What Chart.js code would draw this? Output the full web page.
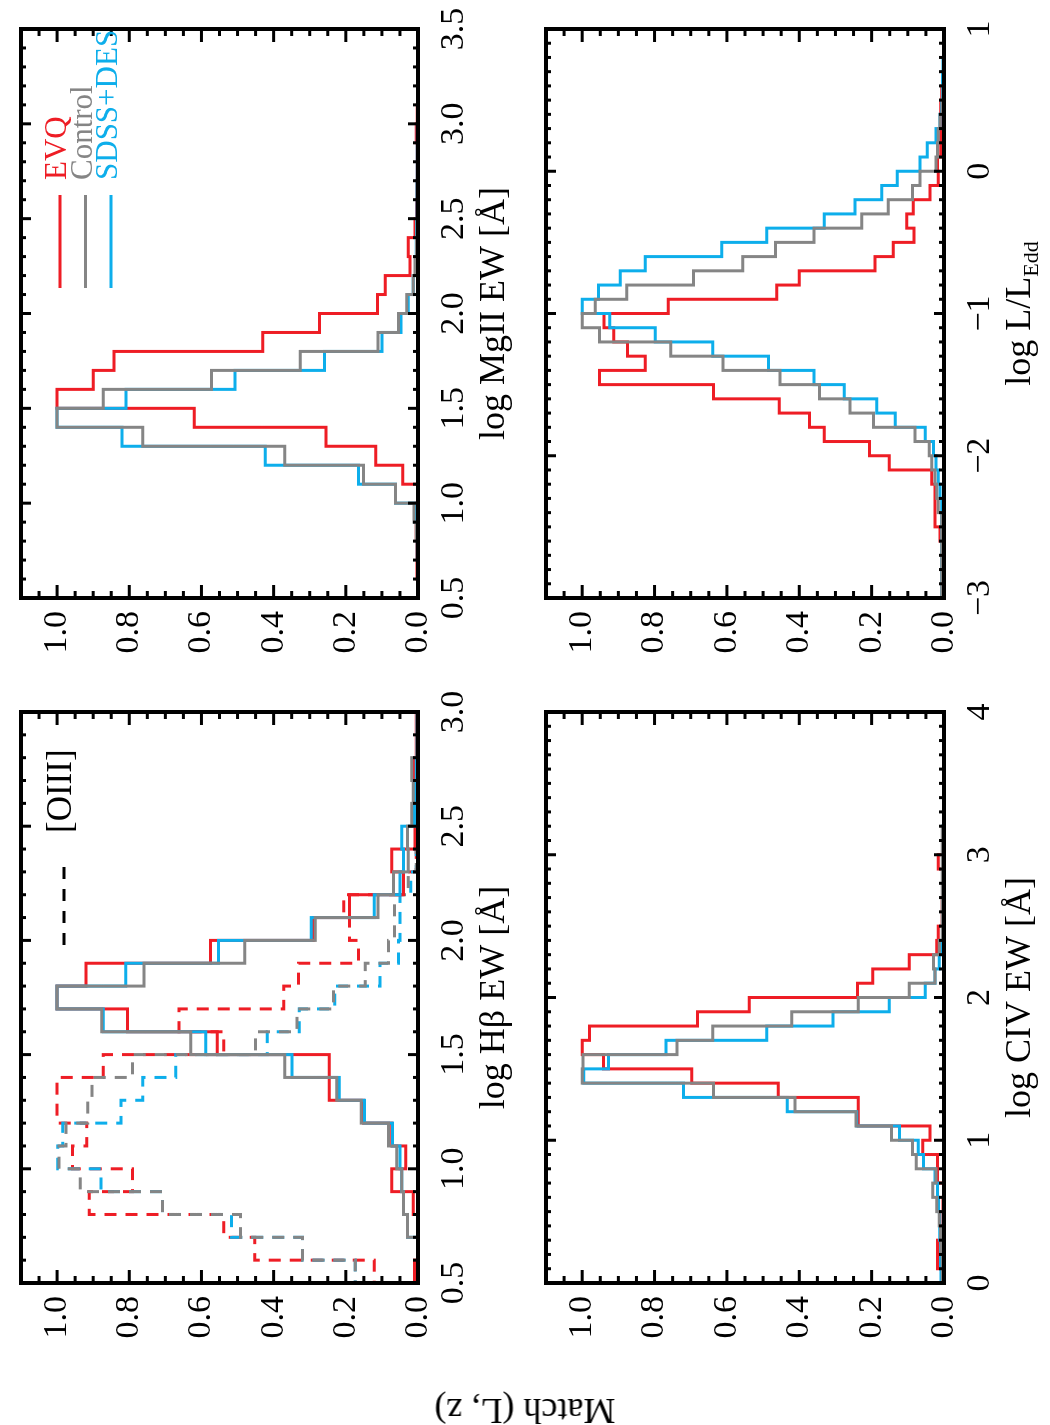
<!DOCTYPE html>
<html>
<head>
<meta charset="utf-8">
<script src="https://cdn.jsdelivr.net/npm/chart.js@4.4.1/dist/chart.umd.min.js"></script>
<style>
  html, body { margin:0; padding:0; background:#fff; width:1050px; height:1425px; overflow:hidden; }
  /* the figure is laid out landscape and turned a quarter turn, like the printed page */
  #page { position:absolute; left:0; top:0; width:1425px; height:1050px;
          transform-origin:0 0; transform:translate(0,1425px) rotate(-90deg); }
  #page canvas { position:absolute; }
  .ylab { position:absolute; left:14px; top:525px; transform:translate(-50%,-50%) rotate(-90deg);
          font:36px 'Liberation Serif', 'Times New Roman', serif; line-height:1; white-space:nowrap; }
</style>
</head>
<body>
<div id="page">
  <canvas id="c-hb"   width="731" height="547" style="left:32px;top:-19px"></canvas>
  <canvas id="c-mg"   width="729" height="547" style="left:717px;top:-19px"></canvas>
  <canvas id="c-civ"  width="731" height="548" style="left:32px;top:506px"></canvas>
  <canvas id="c-ledd" width="729" height="548" style="left:717px;top:506px"></canvas>
  <div class="ylab">Match (L, z)</div>
</div>
<script>
// ── Fonts / colours ───────────────────────────────────────
const FONT = "'Liberation Serif', 'Times New Roman', serif";
const COLORS = {
  evq:     '#ee1d25',
  control: '#858585',
  sdss:    '#0daeeb',
};

// ── Bin left edges (last entry closes the final bin) ─────
const hbEdges   = [0.5,0.6,0.7,0.8,0.9,1.0,1.1,1.2,1.3,1.4,1.5,1.6,1.7,1.8,1.9,2.0,2.1,2.2,2.3,2.4,2.5,2.6,2.7,2.8,2.9,3.0];
const mgEdges   = [0.5,0.6,0.7,0.8,0.9,1.0,1.1,1.2,1.3,1.4,1.5,1.6,1.7,1.8,1.9,2.0,2.1,2.2,2.3,2.4,2.5,2.6,2.7,2.8,2.9,3.0,3.1,3.2,3.3,3.4,3.5];
const civEdges  = [0.0,0.1,0.2,0.3,0.4,0.5,0.6,0.7,0.8,0.9,1.0,1.1,1.2,1.3,1.4,1.5,1.6,1.7,1.8,1.9,
                   2.0,2.1,2.2,2.3,2.4,2.5,2.6,2.7,2.8,2.9,3.0,3.1,3.2,3.3,3.4,3.5,3.6,3.7,3.8,3.9,4.0];
const leddEdges = [-3.0,-2.9,-2.8,-2.7,-2.6,-2.5,-2.4,-2.3,-2.2,-2.1,-2.0,-1.9,-1.8,-1.7,-1.6,-1.5,-1.4,-1.3,-1.2,-1.1,
                   -1.0,-0.9,-0.8,-0.7,-0.6,-0.5,-0.4,-0.3,-0.2,-0.1,0.0,0.1,0.2,0.3,0.4,0.5,0.6,0.7,0.8,0.9,1.0];

// ── Hβ EW (solid) and [OIII] EW (dashed) ──────────────────
const hbEvq     = [0.003,0.010,0.000,0.000,0.013,0.073,0.034,0.073,0.151,0.246,0.246,0.556,0.805,1.000,0.920,0.575,0.290,0.190,0.040,0.073,0.008,0.003,0.003,0.010,0.005];
const hbControl = [0.000,0.000,0.000,0.029,0.040,0.045,0.059,0.082,0.157,0.225,0.369,0.630,0.876,1.000,0.759,0.480,0.285,0.111,0.068,0.027,0.029,0.017,0.013,0.017,0.003];
const hbSdss    = [0.000,0.000,0.000,0.029,0.040,0.045,0.050,0.071,0.148,0.218,0.349,0.588,0.872,1.000,0.810,0.553,0.296,0.121,0.050,0.040,0.045,0.010,0.008,0.005,0.003];
const o3Evq     = [0.036,0.121,0.452,0.538,0.911,0.791,0.957,0.918,1.000,1.000,0.872,0.538,0.662,0.372,0.331,0.165,0.190,0.206,0.040,0.005,0.005,0.003,0.003,0.003,0.003];
const o3Control = [0.148,0.174,0.320,0.492,0.708,0.936,0.995,0.975,0.915,0.903,0.791,0.450,0.335,0.234,0.146,0.082,0.065,0.065,0.027,0.005,0.005,0.003,0.003,0.003,0.003];
const o3Sdss    = [0.148,0.174,0.320,0.517,0.708,0.878,0.998,0.984,0.823,0.763,0.671,0.418,0.329,0.231,0.105,0.054,0.050,0.050,0.020,0.005,0.005,0.003,0.003,0.003,0.003];

// ── MgII EW ───────────────────────────────────────────────
const mgEvq     = [0.000,0.000,0.003,0.003,0.005,0.005,0.000,0.042,0.117,0.255,0.620,1.000,0.900,0.842,0.430,0.273,0.112,0.091,0.022,0.027,0.008,0.004,0.003,0.002,0.002,0.005,0.002,0.000,0.000,0.000];
const mgControl = [0.000,0.000,0.000,0.002,0.005,0.011,0.062,0.151,0.369,0.763,1.000,0.872,0.572,0.326,0.111,0.054,0.031,0.013,0.008,0.004,0.003,0.002,0.002,0.001,0.001,0.001,0.000,0.000,0.000,0.000];
const mgSdss    = [0.000,0.000,0.000,0.002,0.004,0.008,0.062,0.165,0.423,0.820,1.000,0.809,0.507,0.259,0.100,0.047,0.027,0.013,0.006,0.005,0.004,0.003,0.003,0.002,0.002,0.002,0.001,0.001,0.001,0.001];

// ── CIV EW ────────────────────────────────────────────────
const civEvq     = [0.003,0.003,0.018,0.018,0.005,0.003,0.003,0.000,0.018,0.018,0.059,0.039,0.237,0.237,0.458,0.697,0.941,1.000,0.980,0.681,
                    0.538,0.239,0.197,0.096,0.020,0.016,0.005,0.005,0.003,0.003,0.016,0.003,0.000,0.000,0.000,0.000,0.000,0.000,0.000,0.000];
const civControl = [0.005,0.005,0.005,0.008,0.010,0.013,0.020,0.031,0.022,0.077,0.087,0.145,0.243,0.412,0.637,1.000,0.998,0.738,0.639,0.421,
                    0.237,0.096,0.025,0.029,0.013,0.005,0.005,0.005,0.005,0.005,0.005,0.005,0.005,0.000,0.000,0.000,0.000,0.000,0.000,0.000];
const civSdss    = [0.008,0.008,0.010,0.010,0.012,0.012,0.015,0.018,0.025,0.057,0.071,0.123,0.241,0.433,0.720,0.996,0.927,0.768,0.490,0.307,
                    0.151,0.052,0.025,0.013,0.006,0.004,0.004,0.004,0.004,0.004,0.004,0.004,0.004,0.000,0.000,0.000,0.000,0.000,0.000,0.000];

// ── log L/LEdd ────────────────────────────────────────────
const leddEvq     = [0.016,0.005,0.003,0.003,0.002,0.011,0.025,0.025,0.025,0.034,0.151,0.206,0.331,0.372,0.455,0.637,0.952,0.826,0.875,0.913,
                     0.940,0.762,0.462,0.400,0.191,0.140,0.083,0.103,0.085,0.039,0.016,0.018,0.009,0.009,0.009,0.009,0.006,0.000,0.000,0.000];
const leddControl = [0.006,0.006,0.006,0.006,0.006,0.006,0.006,0.016,0.020,0.025,0.034,0.041,0.080,0.195,0.260,0.344,0.453,0.611,0.755,0.952,
                     1.000,0.964,0.877,0.692,0.556,0.466,0.359,0.227,0.154,0.087,0.066,0.022,0.018,0.016,0.011,0.005,0.003,0.000,0.000,0.000];
const leddSdss    = [0.006,0.006,0.006,0.006,0.006,0.006,0.006,0.006,0.011,0.016,0.022,0.029,0.052,0.135,0.186,0.276,0.359,0.485,0.639,0.798,
                     0.924,1.000,0.955,0.895,0.826,0.614,0.490,0.331,0.246,0.172,0.129,0.066,0.046,0.022,0.011,0.006,0.004,0.004,0.003,0.000];

// ── Tick labels on the match axis ─────────────────────────
const matchTicks = [0.0, 0.2, 0.4, 0.6, 0.8, 1.0];

// ── Plugins ───────────────────────────────────────────────
// IDL-style box: frame on all four sides, inward major/minor ticks
const idlFrame = {
  id: 'idlFrame',
  afterDatasetsDraw(chart, args, o) {
    const { ctx, chartArea: a, scales: { x, y } } = chart;
    ctx.save();
    ctx.strokeStyle = '#000';
    ctx.lineWidth = 3;
    const seg = (x1, y1, x2, y2) => { ctx.beginPath(); ctx.moveTo(x1, y1); ctx.lineTo(x2, y2); ctx.stroke(); };
    const isMajor = (v, step) => Math.abs(v / step - Math.round(v / step)) < 1e-6;

    const nx = Math.round((x.max - x.min) / o.xMinor);
    for (let i = 1; i < nx; i++) {
      const v = x.min + i * o.xMinor;
      const len = isMajor(v, o.xMajor) ? 10 : 5;
      const px = x.getPixelForValue(v);
      seg(px, a.bottom, px, a.bottom - len);
      seg(px, a.top, px, a.top + len);
    }
    const ny = Math.round((y.max - y.min) / o.yMinor);
    for (let i = 1; i < ny; i++) {
      const v = y.min + i * o.yMinor;
      const len = isMajor(v, o.yMajor) ? 13 : 7;
      const py = y.getPixelForValue(v);
      seg(a.left, py, a.left + len, py);
      seg(a.right, py, a.right - len, py);
    }
    ctx.lineWidth = 4;
    ctx.strokeRect(a.left, a.top, a.right - a.left, a.bottom - a.top);
    ctx.restore();
  }
};

// x-axis title, with an optional subscript part
const axisTitle = {
  id: 'axisTitle',
  afterDraw(chart, args, o) {
    const { ctx, chartArea: a } = chart;
    const big = `${o.size}px ${FONT}`;
    const small = `${Math.round(o.size * 0.62)}px ${FONT}`;
    ctx.save();
    ctx.font = big;
    const w1 = ctx.measureText(o.text).width;
    ctx.font = small;
    const w2 = o.sub ? ctx.measureText(o.sub).width : 0;
    const x0 = (a.left + a.right) / 2 - (w1 + w2) / 2;
    const y0 = a.bottom + o.offset;
    ctx.fillStyle = '#000';
    ctx.textAlign = 'left';
    ctx.textBaseline = 'alphabetic';
    ctx.font = big;
    ctx.fillText(o.text, x0, y0);
    if (o.sub) {
      ctx.font = small;
      ctx.fillText(o.sub, x0 + w1, y0 + o.size * 0.22);
    }
    ctx.restore();
  }
};

// small in-plot key: short line + label
const plotKey = {
  id: 'plotKey',
  afterDraw(chart, args, o) {
    if (!o.items) return;
    const { ctx, chartArea: a } = chart;
    ctx.save();
    ctx.font = `${o.size}px ${FONT}`;
    ctx.textAlign = 'left';
    ctx.textBaseline = 'middle';
    o.items.forEach((it, i) => {
      const yy = a.top + o.top + i * o.gap;
      ctx.strokeStyle = it.color;
      ctx.lineWidth = 3;
      ctx.setLineDash(it.dash || []);
      ctx.beginPath();
      ctx.moveTo(a.left + o.x0, yy);
      ctx.lineTo(a.left + o.x1, yy);
      ctx.stroke();
      ctx.setLineDash([]);
      ctx.fillStyle = it.textColor || it.color;
      ctx.fillText(it.label, a.left + o.tx, yy - 2);
    });
    ctx.restore();
  }
};

// ── Helpers ───────────────────────────────────────────────
function steps(edges, vals) {
  const pts = vals.map((v, i) => ({ x: edges[i], y: v }));
  pts.push({ x: edges[edges.length - 1], y: vals[vals.length - 1] });
  return pts;
}

function series(label, color, edges, vals, order, dash) {
  return {
    label,
    data: steps(edges, vals),
    borderColor: color,
    backgroundColor: color,
    borderWidth: 3,
    borderDash: dash || [],
    stepped: 'after',
    pointRadius: 0,
    fill: false,
    tension: 0,
    order,
  };
}

const minus = s => String(s).replace('-', '\u2212');

function makePanel(id, { datasets, xMin, xMax, xStep, xMinor, xFmt, title, sub, key }) {
  const tickFont = { family: FONT, size: 34, lineHeight: 1 };
  return new Chart(document.getElementById(id), {
    type: 'line',
    data: { datasets },
    options: {
      responsive: false,
      animation: false,
      events: [],
      // generous padding so the edge tick labels never push the plot box around
      layout: { padding: { top: 40, right: 50, bottom: 0, left: 0 } },
      plugins: {
        legend: { display: false },
        tooltip: { enabled: false },
        idlFrame: { xMajor: xStep, xMinor, yMajor: 0.2, yMinor: 0.05 },
        axisTitle: { text: title, sub, size: 36, offset: 86 },
        plotKey: key || {},
      },
      scales: {
        x: {
          type: 'linear',
          min: xMin,
          max: xMax,
          afterFit: s => { s.height = 110; },
          grid: { display: false, drawTicks: false },
          border: { display: false },
          ticks: {
            stepSize: xStep,
            autoSkip: false,
            maxRotation: 0,
            includeBounds: false,
            padding: 19,
            color: '#000',
            font: tickFont,
            callback: v => xFmt(v),
          },
        },
        y: {
          type: 'linear',
          min: 0,
          max: 1.1,
          afterFit: s => { s.width = 110; },
          afterBuildTicks: s => { s.ticks = matchTicks.map(v => ({ value: v })); },
          grid: { display: false, drawTicks: false },
          border: { display: false },
          ticks: {
            padding: 13,
            color: '#000',
            font: tickFont,
            callback: v => v.toFixed(1),
          },
        },
      },
    },
    plugins: [idlFrame, axisTitle, plotKey],
  });
}

// ── Panels ────────────────────────────────────────────────
const DASH = [12, 9];

makePanel('c-hb', {
  datasets: [
    series('EVQ',      COLORS.evq,     hbEdges, o3Evq,     6, DASH),
    series('SDSS+DES', COLORS.sdss,    hbEdges, o3Sdss,    5, DASH),
    series('Control',  COLORS.control, hbEdges, o3Control, 4, DASH),
    series('EVQ',      COLORS.evq,     hbEdges, hbEvq,     3),
    series('SDSS+DES', COLORS.sdss,    hbEdges, hbSdss,    2),
    series('Control',  COLORS.control, hbEdges, hbControl, 1),
  ],
  xMin: 0.5, xMax: 3.0, xStep: 0.5, xMinor: 0.1,
  xFmt: v => v.toFixed(1),
  title: 'log H\u03b2 EW [\u00c5]',
  key: { items: [{ label: '[OIII]', color: '#000', dash: [12, 10] }], x0: 338, x1: 421, tx: 450, top: 43, gap: 0, size: 35 },
});

makePanel('c-mg', {
  datasets: [
    series('EVQ',      COLORS.evq,     mgEdges, mgEvq,     3),
    series('SDSS+DES', COLORS.sdss,    mgEdges, mgSdss,    2),
    series('Control',  COLORS.control, mgEdges, mgControl, 1),
  ],
  xMin: 0.5, xMax: 3.5, xStep: 0.5, xMinor: 0.1,
  xFmt: v => v.toFixed(1),
  title: 'log MgII EW [\u00c5]',
  key: {
    items: [
      { label: 'EVQ',      color: COLORS.evq },
      { label: 'Control',  color: COLORS.control },
      { label: 'SDSS+DES', color: COLORS.sdss },
    ],
    x0: 310, x1: 403, tx: 418, top: 39, gap: 25.5, size: 31,
  },
});

makePanel('c-civ', {
  datasets: [
    series('EVQ',      COLORS.evq,     civEdges, civEvq,     3),
    series('SDSS+DES', COLORS.sdss,    civEdges, civSdss,    2),
    series('Control',  COLORS.control, civEdges, civControl, 1),
  ],
  xMin: 0, xMax: 4, xStep: 1, xMinor: 0.1,
  xFmt: v => String(Math.round(v)),
  title: 'log CIV EW [\u00c5]',
});

makePanel('c-ledd', {
  datasets: [
    series('EVQ',      COLORS.evq,     leddEdges, leddEvq,     3),
    series('SDSS+DES', COLORS.sdss,    leddEdges, leddSdss,    2),
    series('Control',  COLORS.control, leddEdges, leddControl, 1),
  ],
  xMin: -3, xMax: 1, xStep: 1, xMinor: 0.1,
  xFmt: v => minus(Math.round(v)),
  title: 'log L/L',
  sub: 'Edd',
});
</script>
</body>
</html>
